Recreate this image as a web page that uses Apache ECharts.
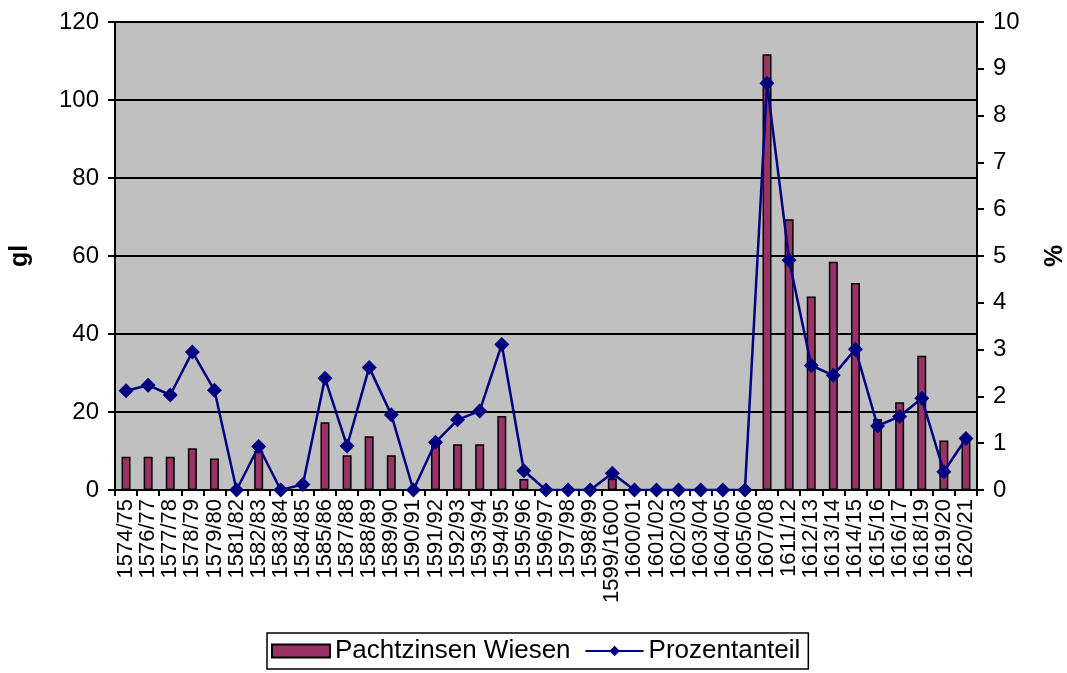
<!DOCTYPE html>
<html>
<head>
<meta charset="utf-8">
<script src="https://cdn.jsdelivr.net/npm/echarts@6/dist/echarts.min.js"></script>
<style>
html,body{margin:0;padding:0;background:#fff;}
#c{width:1067px;height:673px;}
</style>
</head>
<body>
<div id="c"></div>
<script>
const categories = ['1574/75','1576/77','1577/78','1578/79','1579/80','1581/82','1582/83','1583/84','1584/85','1585/86','1587/88','1588/89','1589/90','1590/91','1591/92','1592/93','1593/94','1594/95','1595/96','1596/97','1597/98','1598/99','1599/1600','1600/01','1601/02','1602/03','1603/04','1604/05','1605/06','1607/08','1611/12','1612/13','1613/14','1614/15','1615/16','1616/17','1618/19','1619/20','1620/21'];
const pachtzinsen = [8.5,8.5,8.5,10.7,8.1,0,10,0,0,17.4,8.9,13.8,8.9,0,12,11.7,11.7,19,2.8,0,0,0,3,0,0,0,0,0,0,111.7,69.4,49.6,58.5,53.1,18.2,22.5,34.4,12.7,13.5];
const prozent = [2.12,2.24,2.03,2.95,2.13,0,0.93,0,0.12,2.39,0.94,2.62,1.61,0,1.02,1.50,1.69,3.11,0.41,0,0,0,0.36,0,0,0,0,0,0,8.69,4.91,2.66,2.45,3.01,1.37,1.57,1.96,0.39,1.10];
const leftTicks = {min:0, max:120, interval:20};
const rightTicks = {min:0, max:10, interval:1};

const FONT = 'Liberation Sans, Arial, sans-serif';
const chart = echarts.init(document.getElementById('c'));
chart.setOption({
  animation: false,
  textStyle: {fontFamily: FONT, color: '#000'},
  grid: {left:115, right:90, top:22, bottom:183, show:true, backgroundColor:'#C0C0C0', borderColor:'#808080', borderWidth:1, containLabel:false, outerBoundsMode:'none'},
  legend: {
    left: 267, top: 633,
    padding: [5, 8, 5, 4],
    borderColor: '#000', borderWidth: 1.5,
    itemWidth: 58, itemHeight: 13, itemGap: 14,
    textStyle: {fontSize: 26, color: '#000', fontFamily: FONT},
    data: [
      {name: 'Pachtzinsen Wiesen', icon: 'rect'},
      {name: 'Prozentanteil'}
    ]
  },
  xAxis: {
    type: 'category',
    data: categories,
    boundaryGap: true,
    axisLine: {lineStyle: {color: '#000', width: 2}},
    axisTick: {show: true, length: 6, lineStyle: {color: '#000', width: 2}},
    axisLabel: {interval: 0, rotate: 90, fontSize: 22, color: '#000', margin: 9, fontFamily: FONT}
  },
  yAxis: [
    {
      type: 'value', min: leftTicks.min, max: leftTicks.max, interval: leftTicks.interval,
      name: 'gl', nameLocation: 'middle', nameGap: 82, nameRotate: 90,
      nameTextStyle: {fontSize: 25, fontWeight: 'bold', color: '#000', fontFamily: FONT},
      axisLine: {show: true, lineStyle: {color: '#000', width: 2}},
      axisTick: {show: true, length: 7, lineStyle: {color: '#000', width: 2}},
      axisLabel: {fontSize: 24, color: '#000', margin: 16, fontFamily: FONT},
      splitLine: {show: true, lineStyle: {color: '#000', width: 2}}
    },
    {
      type: 'value', position: 'right', min: rightTicks.min, max: rightTicks.max, interval: rightTicks.interval,
      name: '%', nameLocation: 'middle', nameGap: 66, nameRotate: 90,
      nameTextStyle: {fontSize: 25, fontWeight: 'bold', color: '#000', fontFamily: FONT},
      axisLine: {show: true, lineStyle: {color: '#000', width: 2}},
      axisTick: {show: true, length: 7, lineStyle: {color: '#000', width: 2}},
      axisLabel: {fontSize: 24, color: '#000', margin: 16, fontFamily: FONT},
      splitLine: {show: false}
    }
  ],
  series: [
    {
      name: 'Pachtzinsen Wiesen', type: 'bar', yAxisIndex: 0,
      data: pachtzinsen, barWidth: 9,
      itemStyle: {color: '#993366', borderColor: '#000', borderWidth: 1.5}
    },
    {
      name: 'Prozentanteil', type: 'line', yAxisIndex: 1,
      data: prozent,
      symbol: 'diamond', symbolSize: 15,
      lineStyle: {color: '#000080', width: 2.5},
      itemStyle: {color: '#000080'}
    }
  ]
});
</script>
</body>
</html>
